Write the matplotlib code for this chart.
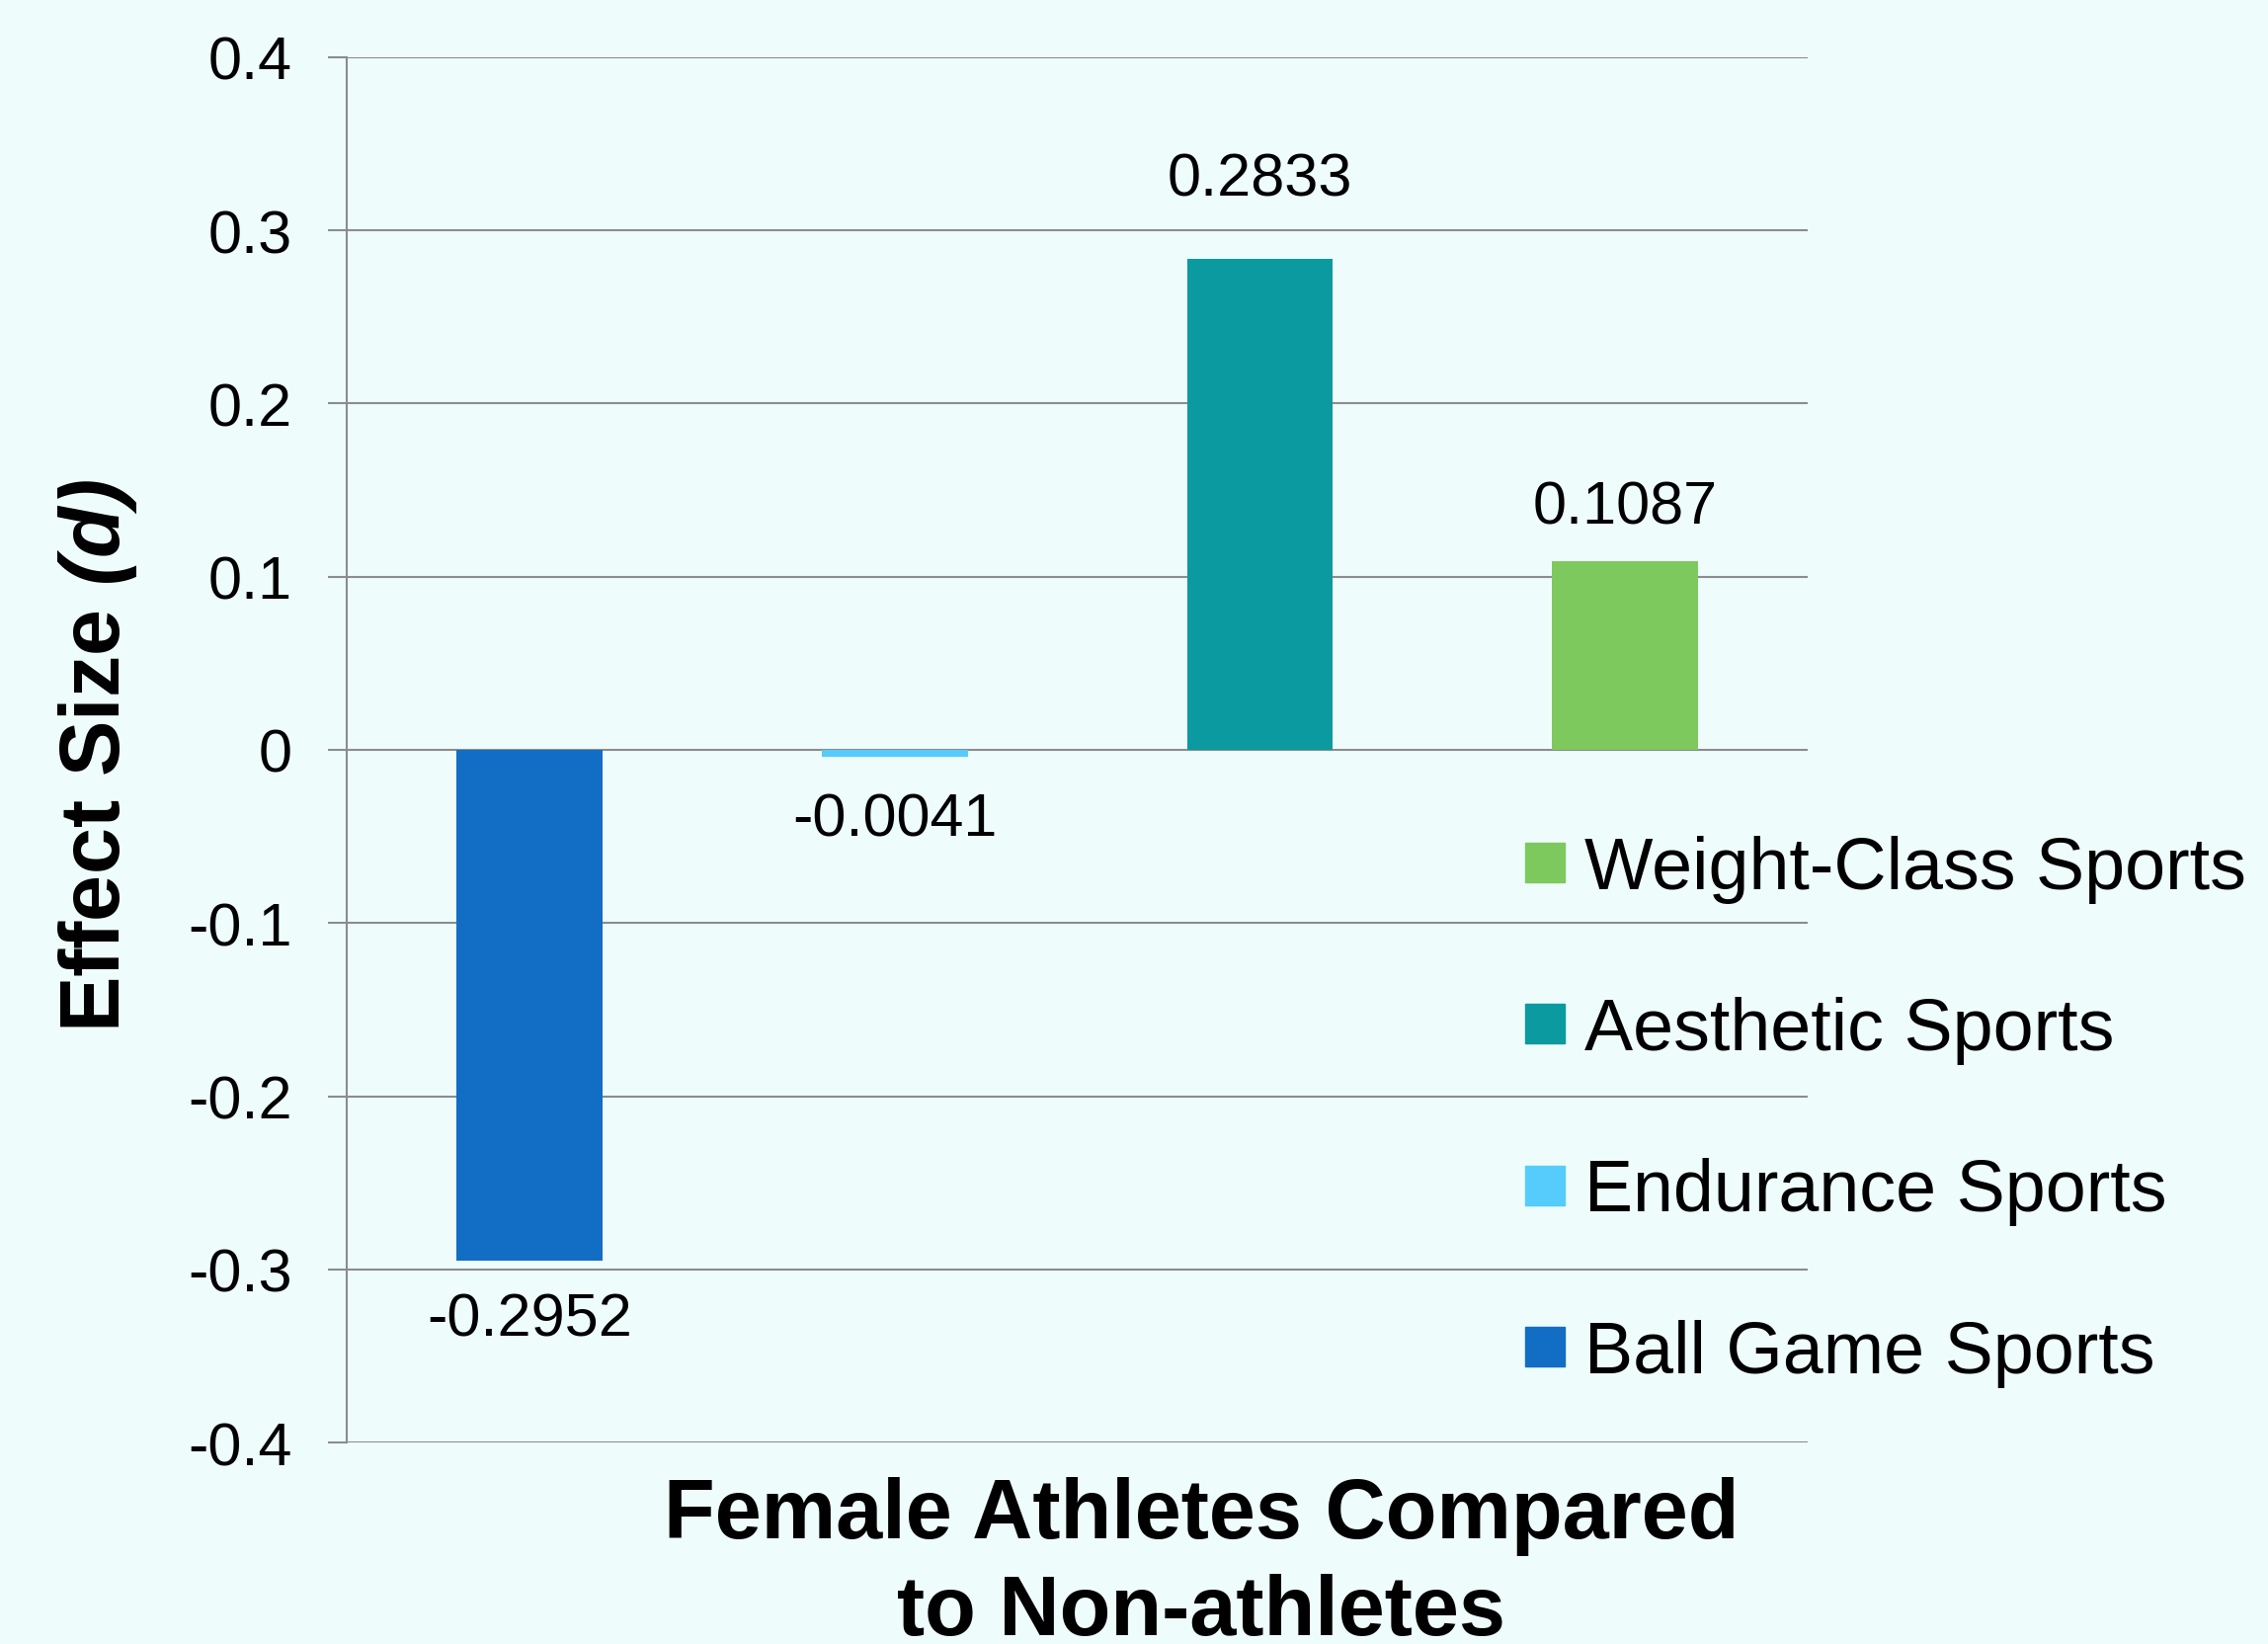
import matplotlib
matplotlib.use("Agg")
import matplotlib.pyplot as plt
from matplotlib.lines import Line2D

categories = ["Ball Game Sports", "Endurance Sports", "Aesthetic Sports", "Weight-Class Sports"]
values = [-0.2952, -0.0041, 0.2833, 0.1087]
value_labels = ["-0.2952", "-0.0041", "0.2833", "0.1087"]
yticks = [-0.4, -0.3, -0.2, -0.1, 0, 0.1, 0.2, 0.3, 0.4]
ytick_labels = ["-0.4", "-0.3", "-0.2", "-0.1", "0", "0.1", "0.2", "0.3", "0.4"]

colors = ["#116EC4", "#55CCFB", "#0A9AA0", "#7DC95E"]
label_offsets = [-43, -46, 58, 39]  # points

plt.rcParams['font.family'] = ['Liberation Sans', 'DejaVu Sans']
plt.rcParams['mathtext.fontset'] = 'custom'
plt.rcParams['mathtext.rm'] = 'Liberation Sans:bold'
plt.rcParams['mathtext.bf'] = 'Liberation Sans:bold'
plt.rcParams['mathtext.bfit'] = 'Liberation Sans:bold:italic'
plt.rcParams['mathtext.it'] = 'Liberation Sans:bold:italic'

bg = "#EFFCFC"
fig = plt.figure(figsize=(22.96, 16.65), dpi=100, facecolor=bg)
ax = fig.add_axes([0.1529, 0.1225, 0.6442, 0.8421])
ax.set_facecolor("none")

x = list(range(len(categories)))
bars = ax.bar(x, values, width=0.4, color=colors, zorder=3)

ax.set_xlim(-0.5, 3.5)
ax.set_ylim(-0.4, 0.4)
ax.set_yticks(yticks)
ax.set_yticklabels(ytick_labels)
ax.set_xticks([])
ax.grid(axis='y', color='#8C8C8C', linewidth=1.5, zorder=0)
ax.set_axisbelow(True)
for s in ['top', 'right', 'bottom']:
    ax.spines[s].set_visible(False)
ax.spines['left'].set_color('#8C8C8C')
ax.spines['left'].set_linewidth(1.5)
ax.tick_params(axis='y', length=14, width=1.5, color='#8C8C8C', labelsize=44, pad=26)

for xi, v, lab, off in zip(x, values, value_labels, label_offsets):
    ax.annotate(lab, (xi, v), xytext=(0, off), textcoords='offset points',
                ha='center', va='center', fontsize=44)

handles = [Line2D([], [], marker='s', linestyle='none', markersize=29,
                  markerfacecolor=c, markeredgecolor=c) for c in colors]
leg = fig.legend(handles[::-1], categories[::-1], loc='upper left',
                 bbox_to_anchor=(1527 / 2296, 1 - 846 / 1665), frameon=False,
                 fontsize=53, handlelength=1.0, handletextpad=0.05,
                 labelspacing=1.28, borderpad=0, borderaxespad=0)

fig.text(0.043, 0.5405, r'Effect Size $\mathbfit{(d)}$', rotation=90,
         ha='center', va='center', fontsize=61, fontweight='bold')
fig.text(0.5296, 1 - 1557 / 1665, 'Female Athletes Compared', ha='center',
         va='baseline', fontsize=61, fontweight='bold')
fig.text(0.5296, 1 - 1655 / 1665, 'to Non-athletes', ha='center',
         va='baseline', fontsize=61, fontweight='bold')

fig.savefig("out.png", dpi=100, facecolor=bg)
